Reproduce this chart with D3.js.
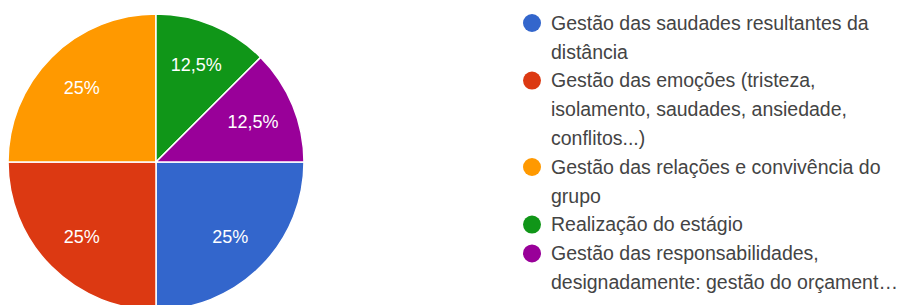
<!DOCTYPE html>
<html>
<head>
<meta charset="utf-8">
<script src="https://cdn.jsdelivr.net/npm/d3@7"></script>
<style>
  body { margin: 0; background: #fff; }
  .slice-label { font-family: "Liberation Sans", Arial, sans-serif; font-size: 18px; fill: #fff; }
  .legend text { font-family: "Liberation Sans", Arial, sans-serif; font-size: 19.5px; fill: #444; }
</style>
</head>
<body>
<script>
const categories = [
  'Gestão das saudades resultantes da\ndistância',
  'Gestão das emoções (tristeza,\nisolamento, saudades, ansiedade,\nconflitos...)',
  'Gestão das relações e convivência do\ngrupo',
  'Realização do estágio',
  'Gestão das responsabilidades,\ndesignadamente: gestão do orçament…'
];
const values = [2, 2, 2, 1, 1];
const sliceLabels = ['25%', '25%', '25%', '12,5%', '12,5%'];
const colors = ['#3366cc', '#dc3912', '#ff9900', '#109618', '#990099'];

const width = 901, height = 305;
const cx = 156, cy = 162, r = 148;

const svg = d3.select('body').append('svg')
  .attr('width', width).attr('height', height);

const color = d3.scaleOrdinal().domain(categories).range(colors);

const pie = d3.pie()
  .value(d => d.value)
  .sort(null)
  .startAngle(Math.PI / 2)
  .endAngle(Math.PI / 2 + 2 * Math.PI);

const data = categories.map((c, i) => ({ cat: c, value: values[i], label: sliceLabels[i] }));
const arcs = pie(data);

const arc = d3.arc().innerRadius(0).outerRadius(r);
const labelArc = d3.arc().innerRadius(r * 0.71).outerRadius(r * 0.71);

const g = svg.append('g').attr('transform', `translate(${cx},${cy})`);

g.selectAll('path')
  .data(arcs)
  .enter().append('path')
  .attr('d', arc)
  .attr('fill', d => color(d.data.cat))
  .attr('stroke', '#fff')
  .attr('stroke-width', 1.5);

g.selectAll('text')
  .data(arcs)
  .enter().append('text')
  .attr('class', 'slice-label')
  .attr('transform', d => `translate(${labelArc.centroid(d)})`)
  .attr('text-anchor', 'middle')
  .attr('dy', '0.35em')
  .text(d => d.data.label);

// legend
const lineH = 28.8, x0 = 532, y0 = 23;
const legend = svg.append('g').attr('class', 'legend');
let line = 0;
categories.forEach((c, i) => {
  const lines = c.split('\n');
  const yy = y0 + line * lineH;
  legend.append('circle')
    .attr('cx', x0).attr('cy', yy).attr('r', 9)
    .attr('fill', colors[i]);
  const t = legend.append('text');
  lines.forEach((l, j) => {
    t.append('tspan')
      .attr('x', x0 + 19)
      .attr('y', yy + j * lineH)
      .attr('dy', '0.35em')
      .text(l);
  });
  line += lines.length;
});
</script>
</body>
</html>
